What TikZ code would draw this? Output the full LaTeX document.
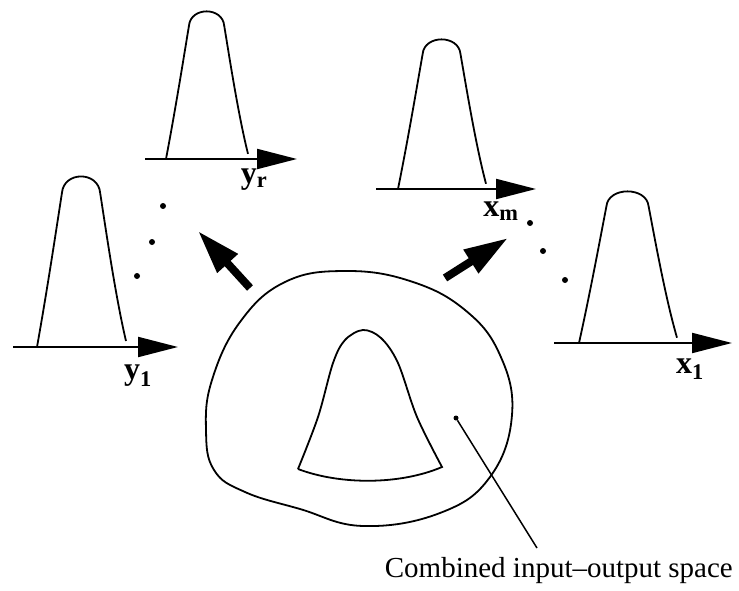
\documentclass[tikz,border=0pt]{standalone}
\usepackage{fontspec}
\setmainfont{Liberation Serif}
\usetikzlibrary{arrows.meta}

% sino: x e y do pe esquerdo, largura, altura
\newcommand{\sino}[4]{%
  \draw[curva] (#1,#2)
    .. controls ({#1+0.12*#3},{#2-0.35*#4}) and ({#1+0.22*#3},{#2-0.7*#4})
    .. ({#1+0.28*#3},{#2-0.9*#4})
    .. controls ({#1+0.30*#3},{#2-1.03*#4}) and ({#1+0.69*#3},{#2-1.03*#4})
    .. ({#1+0.71*#3},{#2-0.9*#4})
    .. controls ({#1+0.77*#3},{#2-0.7*#4}) and ({#1+0.88*#3},{#2-0.3*#4})
    .. ({#1+#3},{#2-0.035*#4});}

\begin{document}
\begin{tikzpicture}[
    x=1pt, y=-1pt,
    curva/.style={line width=1.8pt},
    eixo/.style={line width=2pt, -{Triangle[length=40pt, width=20pt]}},
    seta/.style={line width=8pt, -{Triangle[length=44pt, width=26pt]}},
    ponto/.style={circle, fill, inner sep=0pt, minimum size=6pt},
    rotulo/.style={font=\fontsize{32}{34}\selectfont\bfseries, inner sep=0pt},
    legenda/.style={font=\fontsize{29}{32}\selectfont, inner sep=0pt}
]
\useasboundingbox (0,0) rectangle (739,591);

% Eixos
\draw[eixo] (13,347) -- (178,347);
\draw[eixo] (145,159) -- (297,159);
\draw[eixo] (376,189) -- (536,189);
\draw[eixo] (554,343) -- (732,343);

% Sinos
\sino{37}{347}{89}{171}
\sino{166}{159}{82}{148}
\sino{398}{189}{88}{150}
\sino{579}{343}{98}{152}

% Rotulos
\node[rotulo] (y1) at (138,376) {y\textsubscript{1}};
\node[rotulo] (yr) at (254,180) {y\textsubscript{r}};
\node[rotulo] (xm) at (501,211) {x\textsubscript{m}};
\node[rotulo] (x1) at (690,369) {x\textsubscript{1}};

% Pontos
\node[ponto] (py1) at (163,206) {};
\node[ponto] (py2) at (152,242) {};
\node[ponto] (py3) at (137,276) {};
\node[ponto] (px1) at (530,223) {};
\node[ponto] (px2) at (543,251) {};
\node[ponto] (px3) at (565,280) {};

% Espaco combinado
\draw[curva] plot[smooth cycle, tension=0.7] coordinates {(206,430) (214,470)
  (245,492) (300,509) (363,526) (440,513) (490,477) (512,415) (500,355)
  (465,310) (410,281) (345,271) (285,282) (240,322) (212,380)};
\draw[curva] plot[smooth, tension=0.55] coordinates {(298,469) (318,417)
  (333,363) (345,340) (363,330) (381,338) (398,363) (417,417) (442,467)}
  .. controls (400,485) and (340,485) .. (298,469);

% Setas grossas
\coordinate (sa) at (250,288);
\coordinate (sb) at (198,231);
\coordinate (sc) at (445,278);
\coordinate (sd) at (508,238);
\draw[seta] (sa) -- (sb);
\draw[seta] (sc) -- (sd);

% Legenda
\node[legenda, anchor=base east] (leg) at (733,577) {Combined input--output space};
\node[ponto, minimum size=5pt] (alvo) at (456,418) {};
\coordinate (ponta) at (537,548);
\draw[line width=1.5pt] (alvo) -- (ponta);

\end{tikzpicture}
\end{document}
